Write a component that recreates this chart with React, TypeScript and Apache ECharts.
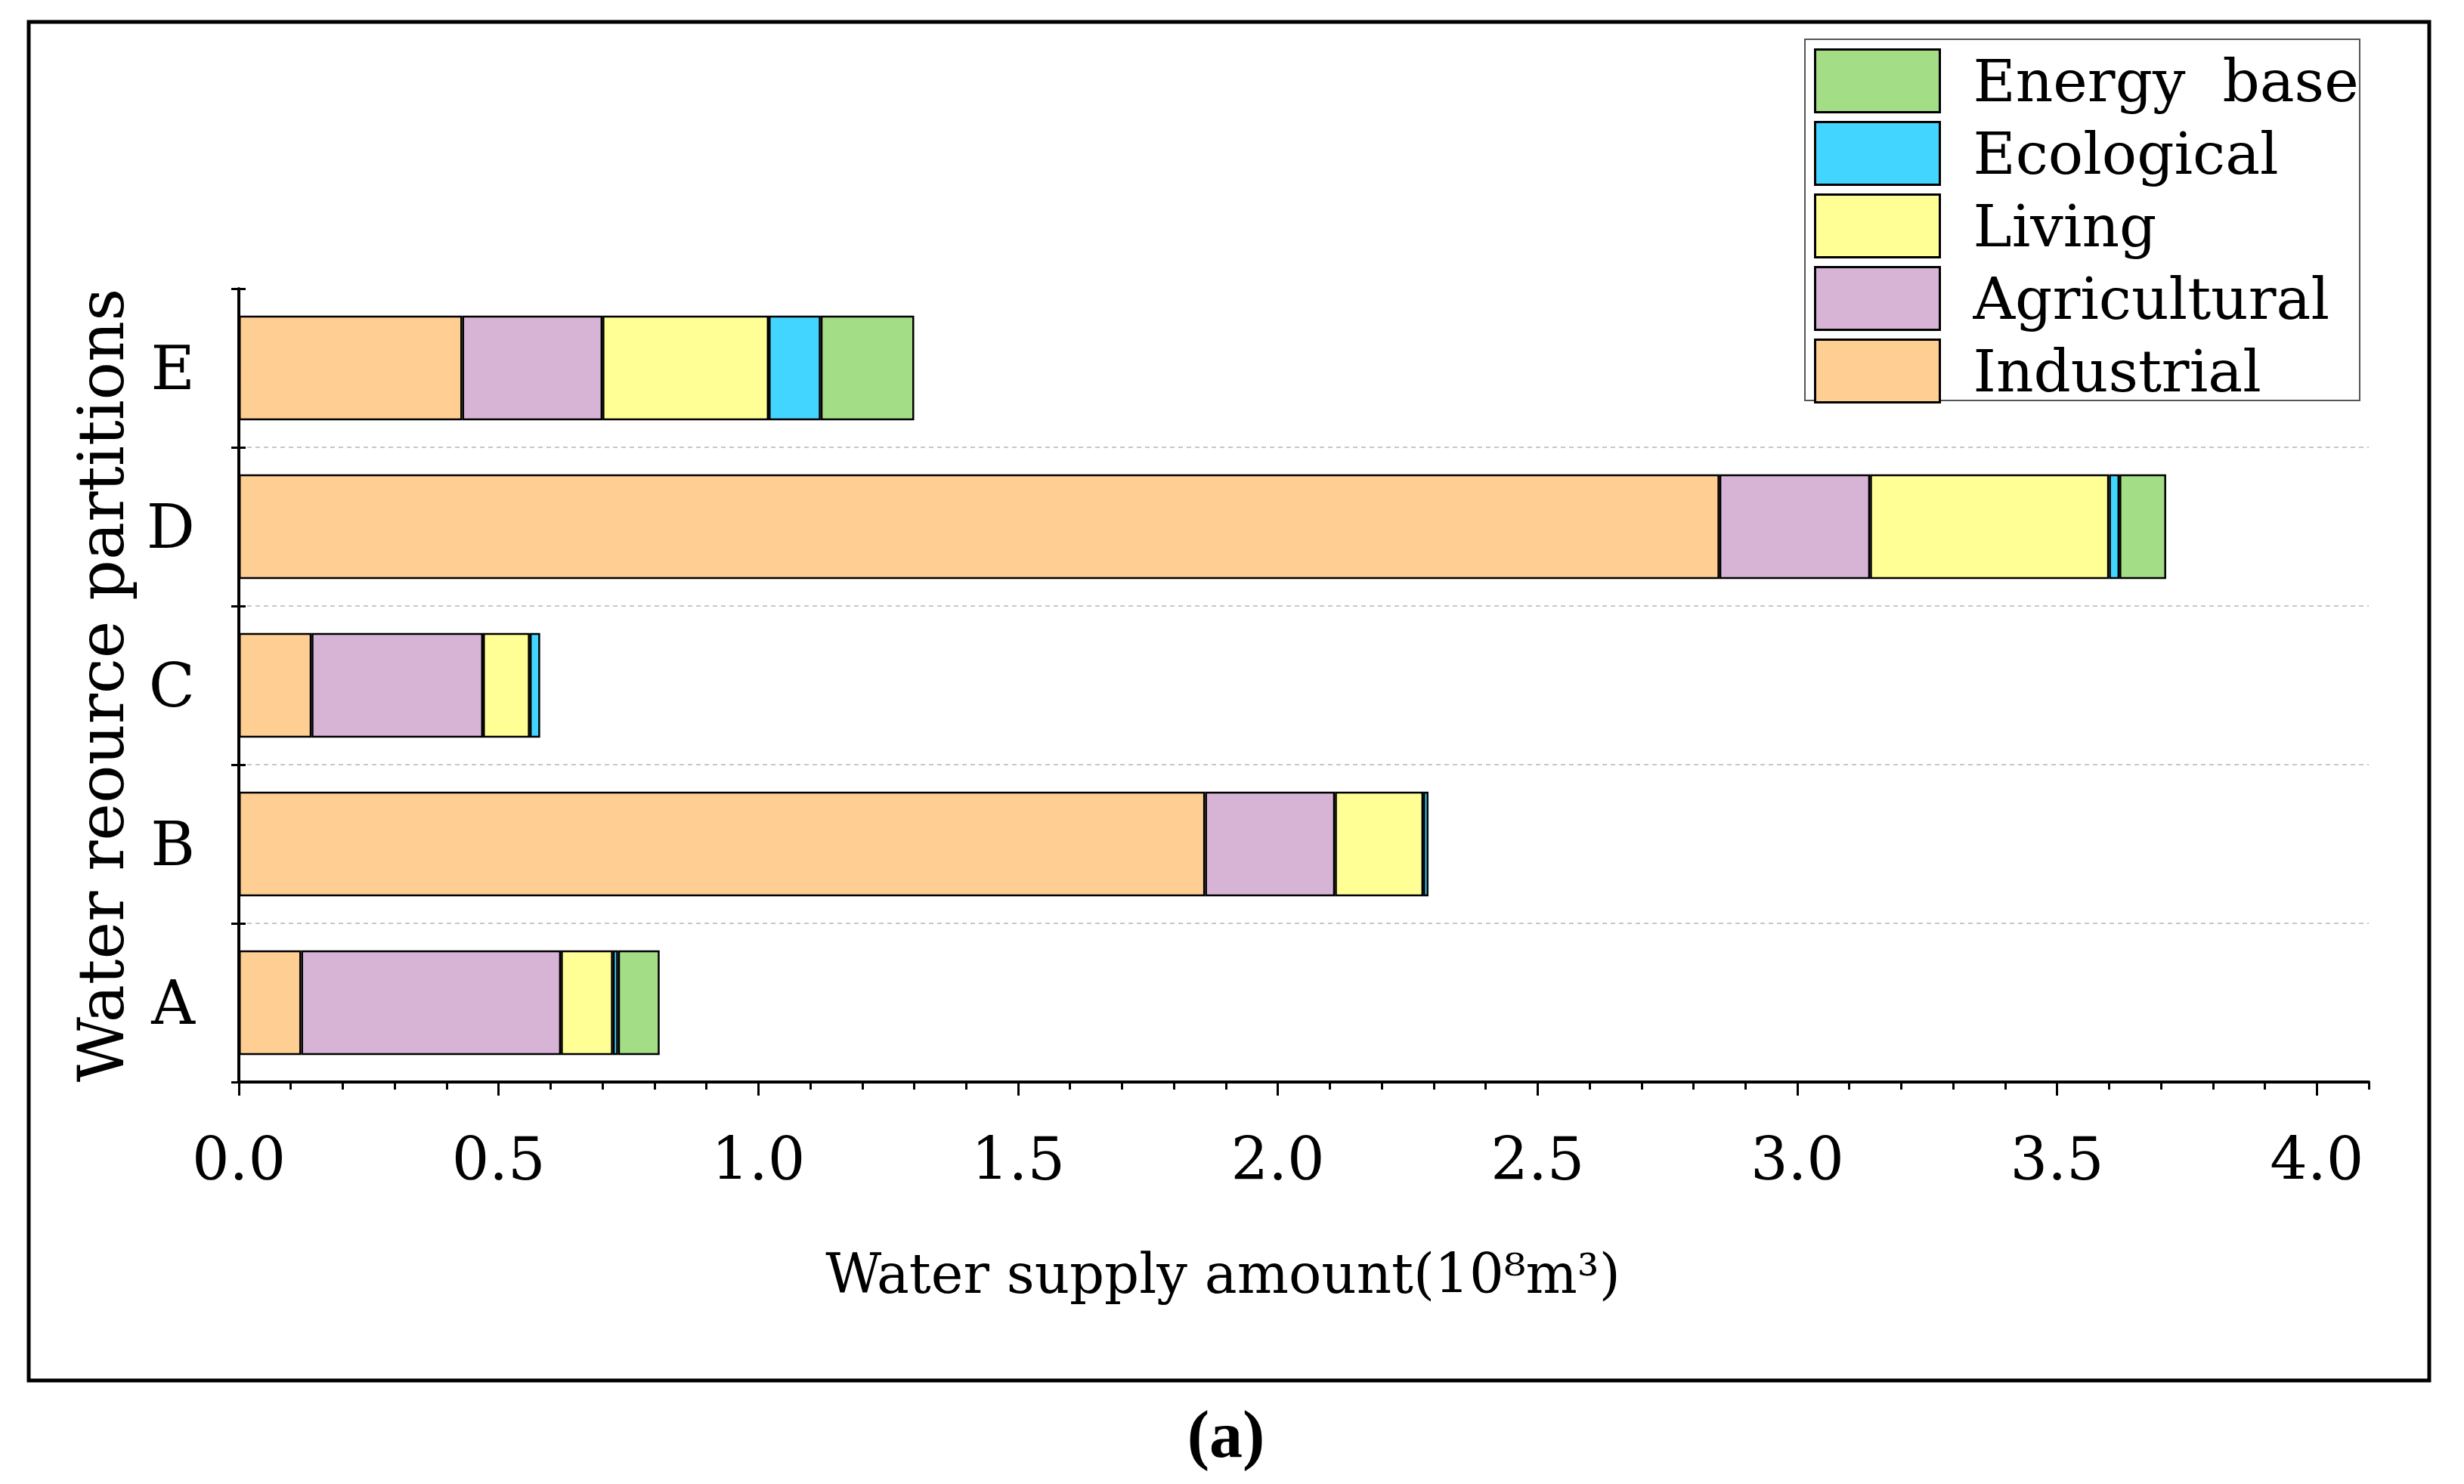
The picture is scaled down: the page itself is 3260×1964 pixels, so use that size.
import React, { useEffect, useRef } from "react";
import * as echarts from "echarts";

const categories = ["A", "B", "C", "D", "E"];
const industrial = [0.12, 1.86, 0.14, 2.85, 0.43];
const agricultural = [0.5, 0.25, 0.33, 0.29, 0.27];
const living = [0.1, 0.17, 0.09, 0.46, 0.32];
const ecological = [0.01, 0.01, 0.02, 0.02, 0.1];
const energyBase = [0.08, null, null, 0.09, 0.18];

const xMajorTicks = [0, 0.5, 1.0, 1.5, 2.0, 2.5, 3.0, 3.5, 4.0];
const xMax = 4.1;
const legendOrder = ["Energy base", "Ecological", "Living", "Agricultural", "Industrial"];
const xAxisName = "Water supply amount(10⁸m³)";
const yAxisName = "Water reource partitions";
const caption = "(a)";

const FONT = '"DejaVu Serif", serif';

const seriesDefs = [
  { name: "Industrial", data: industrial, color: "#FECE92" },
  { name: "Agricultural", data: agricultural, color: "#D7B4D6" },
  { name: "Living", data: living, color: "#FFFF95" },
  { name: "Ecological", data: ecological, color: "#42D5FF" },
  { name: "Energy base", data: energyBase, color: "#A3DE87" },
];

export default function App() {
  const ref = useRef<HTMLDivElement>(null);
  useEffect(() => {
    if (!ref.current) return;
    const chart = echarts.init(ref.current, null, { renderer: "svg" });
    const minorTicks: number[] = [];
    for (let i = 0; i <= 41; i++) minorTicks.push(i / 10);

    const option: any = {
      animation: false,
      backgroundColor: "#ffffff",
      grid: { left: 316, top: 382, width: 2818, height: 1050, containLabel: false },
      legend: {
        orient: "vertical",
        left: 2400,
        top: 64,
        padding: 0,
        itemGap: 10,
        itemWidth: 165,
        itemHeight: 83,
        icon: "rect",
        selectedMode: false,
        data: legendOrder,
        formatter: (n: string) => (n === "Energy base" ? "Energy  base" : n),
        itemStyle: { borderColor: "#000", borderWidth: 3 },
        textStyle: { fontFamily: FONT, fontSize: 77, color: "#000", padding: [0, 0, 0, 39] },
      },
      xAxis: [
        {
          type: "value",
          min: 0,
          max: xMax,
          interval: 0.5,
          position: "bottom",
          axisLine: { show: true, lineStyle: { color: "#000", width: 4 } },
          axisTick: { show: true, customValues: xMajorTicks, length: 18, lineStyle: { color: "#000", width: 3 } },
          axisLabel: {
            customValues: xMajorTicks,
            formatter: (v: number) => v.toFixed(1),
            fontFamily: FONT,
            fontSize: 78,
            color: "#000",
            margin: 63,
          },
          splitLine: { show: false },
          name: xAxisName,
          nameLocation: "middle",
          nameGap: 218,
          nameTextStyle: { fontFamily: FONT, fontSize: 72, color: "#000", padding: [0, 214, 0, 0] },
        },
        {
          type: "value",
          min: 0,
          max: xMax,
          interval: 0.1,
          position: "bottom",
          axisLine: { show: false },
          axisTick: { show: true, customValues: minorTicks, length: 10, lineStyle: { color: "#000", width: 3 } },
          axisLabel: { show: false },
          splitLine: { show: false },
        },
      ],
      yAxis: [
        {
          type: "category",
          data: categories,
          position: "left",
          axisLine: { show: true, lineStyle: { color: "#000", width: 4 } },
          axisTick: { show: true, length: 10, lineStyle: { color: "#000", width: 3 } },
          axisLabel: { fontFamily: FONT, fontSize: 80, color: "#000", margin: 58 },
          splitLine: {
            show: true,
            showMaxLine: false,
            showMinLine: false,
            lineStyle: { type: [6, 5], color: "#c8c8c8", width: 2 },
          },
          name: yAxisName,
          nameLocation: "middle",
          nameRotate: 90,
          nameGap: 140,
          nameTextStyle: { fontFamily: FONT, fontSize: 84, color: "#000" },
        },
        {
          type: "category",
          data: categories,
          position: "left",
          axisLine: { show: false },
          axisTick: { show: true, inside: true, length: 9, lineStyle: { color: "#000", width: 3 } },
          axisLabel: { show: false },
          splitLine: { show: false },
        },
      ],
      series: seriesDefs.map((s) => ({
        name: s.name,
        type: "bar",
        stack: "total",
        xAxisIndex: 0,
        yAxisIndex: 0,
        barWidth: "66%",
        data: s.data,
        itemStyle: { color: s.color, borderColor: "#000", borderWidth: 2.5 },
      })),
      graphic: [
        {
          type: "rect",
          shape: { x: 38, y: 29, width: 3176, height: 1798 },
          style: { fill: "none", stroke: "#000", lineWidth: 5 },
          silent: true,
        },
        {
          type: "rect",
          shape: { x: 2388, y: 52, width: 734, height: 478 },
          style: { fill: "none", stroke: "#555", lineWidth: 2 },
          silent: true,
        },
        {
          type: "text",
          x: 1622,
          y: 1898,
          style: {
            text: caption,
            fontSize: 88,
            fontFamily: '"Liberation Serif", serif',
            fontWeight: "bold",
            fill: "#000",
            align: "center",
            verticalAlign: "middle",
          },
          silent: true,
        },
      ],
    };
    chart.setOption(option);
    return () => chart.dispose();
  }, []);
  return (
    <div
      ref={ref}
      style={{ position: "fixed", left: 0, top: 0, width: 3260, height: 1964 }}
    />
  );
}
